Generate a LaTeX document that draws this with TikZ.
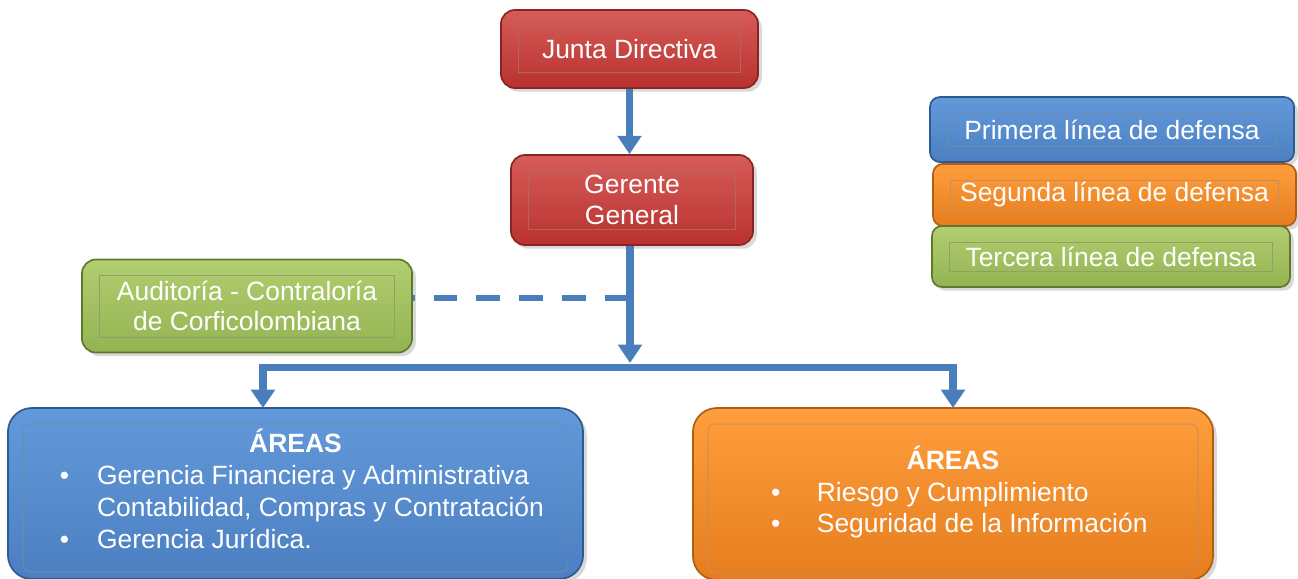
\documentclass[tikz,border=0pt]{standalone}
\usepackage{fontspec}
\setmainfont{Liberation Sans}
\usetikzlibrary{arrows.meta,shadows}

\definecolor{rojoA}{HTML}{D65C59}
\definecolor{rojoB}{HTML}{B8322F}
\definecolor{rojoL}{HTML}{8A2422}
\definecolor{azulA}{HTML}{6399DA}
\definecolor{azulB}{HTML}{4B7FC1}
\definecolor{azulL}{HTML}{2E5A90}
\definecolor{naranjaA}{HTML}{FF9E3D}
\definecolor{naranjaB}{HTML}{E57D1E}
\definecolor{naranjaL}{HTML}{B05E12}
\definecolor{verdeA}{HTML}{B2CE70}
\definecolor{verdeB}{HTML}{93B352}
\definecolor{verdeL}{HTML}{5E792B}
\definecolor{flecha}{HTML}{4A7EBB}

\begin{document}
\begin{tikzpicture}[x=0.025cm,y=-0.025cm,
    caja/.style={rectangle,rounded corners=0.35cm,draw=#1L,line width=1.2pt,
        top color=#1A,bottom color=#1B,text=white,inner sep=0pt,align=center,
        font=\fontsize{18.8}{21.5}\selectfont,drop shadow={opacity=0.3}},
    marco/.style={draw=#1L!70,line width=0.6pt},
    flechaest/.style={draw=flecha,line width=5.5pt,-{Triangle[width=16.5pt,length=13pt]}},
    enlace/.style={draw=flecha,line width=4pt,dash pattern=on 17pt off 13.5pt}]
    \useasboundingbox (0,0) rectangle (1298,579);

    % cajas del organigrama
    \node[caja=rojo,minimum width=6.425cm,minimum height=1.95cm] (jd) at (629.5,49) {Junta Directiva};
    \node[caja=rojo,minimum width=6.05cm,minimum height=2.25cm] (gg) at (632,200) {Gerente\\General};
    \node[caja=verde,minimum width=8.25cm,minimum height=2.325cm] (aud) at (247,306) {Auditoría - Contraloría\\de Corficolombiana};

    % leyenda
    \node[caja=azul,rounded corners=0.25cm,minimum width=9.1cm,minimum height=1.625cm] (l1) at (1112,129.5) {Primera línea de defensa};
    \node[caja=naranja,rounded corners=0.25cm,minimum width=9.075cm,minimum height=1.55cm] (l2) at (1114.5,195) {Segunda línea de defensa};
    \node[caja=verde,rounded corners=0.25cm,minimum width=8.95cm,minimum height=1.525cm] (l3) at (1111,256.5) {Tercera línea de defensa};

    % areas
    \node[caja=azul,rounded corners=0.6cm,minimum width=14.375cm,minimum height=4.275cm] (areaA) at (295.5,493.5) {%
        \renewcommand{\arraystretch}{1.06}%
        \begin{tabular}{@{\hspace{9pt}}c@{\hspace{20pt}}l@{}}
            \multicolumn{2}{c}{\textbf{ÁREAS}}\\
            \textbullet & Gerencia Financiera y Administrativa\\
                        & Contabilidad, Compras y Contratación\\
            \textbullet & Gerencia Jurídica.
        \end{tabular}};
    \node[caja=naranja,rounded corners=0.6cm,minimum width=13cm,minimum height=4.3cm] (areaB) at (953,494) {%
        \renewcommand{\arraystretch}{1.04}%
        \begin{tabular}{@{\hspace{9pt}}c@{\hspace{26pt}}l@{}}
            \multicolumn{2}{c}{\textbf{ÁREAS}}\\
            \textbullet & Riesgo y Cumplimiento\\
            \textbullet & Seguridad de la Información
        \end{tabular}};

    % marcos interiores
    \foreach \n/\c in {jd/rojo,gg/rojo,aud/verde,l1/azul,l2/naranja,l3/verde}
        \draw[marco=\c] ([shift={(18,17)}]\n.north west) rectangle ([shift={(-18,-16)}]\n.south east);
    \foreach \n/\c in {areaA/azul,areaB/naranja}
        \draw[marco=\c,rounded corners=4pt] ([shift={(16,17)}]\n.north west) rectangle ([shift={(-16,-8)}]\n.south east);

    % conectores
    \coordinate (bus) at (630,367.5);
    \coordinate (busTop) at (630,363);
    \coordinate (inA) at (263,408);
    \coordinate (inB) at (953,408);
    \coordinate (dashR) at (629,298);

    \draw[flechaest] (jd.south) -- (jd.south |- gg.north);
    \draw[flechaest] (gg.south -| bus) -- (busTop);
    \draw[flechaest] (bus) -| (inA);
    \draw[flechaest] (bus) -| (inB);
    \draw[enlace] (dashR) -- (aud.east |- dashR);
\end{tikzpicture}
\end{document}
